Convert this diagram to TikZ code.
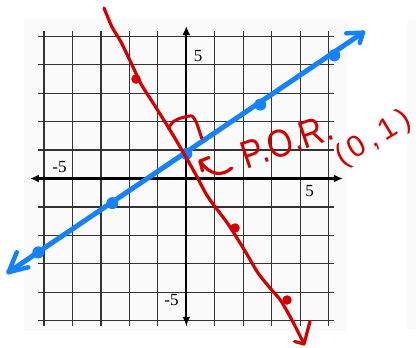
\documentclass[tikz,border=0pt]{standalone}
\usepackage{fontspec}
\setmainfont{Liberation Serif}
\newfontfamily\handfont{Liberation Sans}
\usetikzlibrary{arrows.meta}
\definecolor{pblue}{RGB}{22,130,250}
\definecolor{pred}{RGB}{210,0,0}
\definecolor{paper}{RGB}{250,250,250}
\begin{document}
\begin{tikzpicture}[x=1pt,y=-1pt,
  gridln/.style={black!80,line width=1.2pt},
  axisln/.style={black,line width=2.3pt},
  blueln/.style={pblue,line width=5pt,line cap=round,line join=round},
  redln/.style={pred,line width=3.2pt,line cap=round,line join=round},
  bdot/.style={circle,fill=pblue,inner sep=0pt,minimum size=12pt},
  rdot/.style={circle,fill=pred,inner sep=0pt,minimum size=9.5pt},
  ticklbl/.style={font=\fontsize{17}{17}\selectfont,inner sep=0pt},
  hand/.style={pred,inner sep=0pt}]
\useasboundingbox (0,0) rectangle (416,348);
\fill[paper] (24,19) rectangle (347,331);
\fill[paper] (407,20) rectangle (416,329);
\begin{scope}[shift={(186.3,178.5)},x=24.67pt,y=24.63pt]
  \draw[gridln] (-6,-6) grid (6,6);
  \draw[axisln,{Latex[length=9pt,width=8pt]}-{Latex[length=9pt,width=8pt]}] (-6.34,0) -- (6.35,0);
  \draw[axisln,{Latex[length=9pt,width=8pt]}-{Latex[length=9pt,width=8pt]}] (0,-5.98) -- (0,6.19);
  % blue line
  \coordinate (bs) at (-7.2,-3.8);
  \coordinate (be) at (7.16,5.92);
  \draw[blueln] (bs) -- (be);
  \node[bdot] (b1) at (-6,-3) {};
  \node[bdot] (b2) at (-3,-1) {};
  \node[bdot] (b3) at (0,1) {};
  \node[bdot] (b4) at (3,3) {};
  \node[bdot] (b5) at (6,5) {};
\end{scope}
% blue arrow heads (hand drawn)
\coordinate (ua1) at (346.3,33.3);
\coordinate (ua2) at (359.7,43);
\coordinate (la1) at (16.7,252.3);
\coordinate (la2) at (28.3,267.3);
\draw[blueln,line width=4.5pt] (ua1) -- (be) -- (ua2);
\draw[blueln,line width=4.5pt] (la1) -- (bs) -- (la2);
% tick labels
\node[ticklbl] (ly5) at (198,56.5) {5};
\node[ticklbl] (lym5) at (171.5,300.5) {-5};
\node[ticklbl] (lx5) at (309.7,191.5) {5};
\node[ticklbl] (lxm5) at (59.5,167) {-5};
% red perpendicular line (hand drawn)
\coordinate (rs) at (104,8);
\coordinate (re) at (304,344);
\draw[redln] plot[smooth,tension=0.45] coordinates {(104,8) (112,27) (121,42) (133,67) (141,84) (155,106) (170,130) (183,152) (196,175) (208,197) (228,224) (245,251) (258,273) (270,288) (281,301) (293,322) (304,344)};
\coordinate (ra1) at (294.5,341.5);
\coordinate (ra2) at (310,321.5);
\draw[redln] (ra1) -- (re) -- (ra2);
\node[rdot] (r1) at (136,79) {};
\node[rdot] (r2) at (235,228) {};
\node[rdot] (r3) at (287,300) {};
% right angle mark
\draw[redln,line width=3pt] plot[smooth,tension=0.4] coordinates {(168.3,128.3) (173.5,121.5) (181,118) (191.7,116) (196.7,123.3) (201.7,138.3)};
% curved arrow to the point of intersection
\coordinate (ct) at (200,161);
\coordinate (cs) at (231.7,168);
\draw[redln] (cs) .. controls (222,177) and (209,175) .. (ct);
\draw[redln] (209,157.5) -- (ct) -- (202.5,171);
% handwritten labels
\node[hand,rotate=19,font=\handfont\fontsize{39}{39}\selectfont] (por) at (287,141) {\scalebox{0.84}[1]{P.O.R.}};
\node[hand,rotate=31,font=\handfont\fontsize{30}{30}\selectfont] (pt) at (374,139) {(\hspace{4pt}0\hspace{6pt},\hspace{5pt}1\hspace{6pt})};
\end{tikzpicture}
\end{document}
